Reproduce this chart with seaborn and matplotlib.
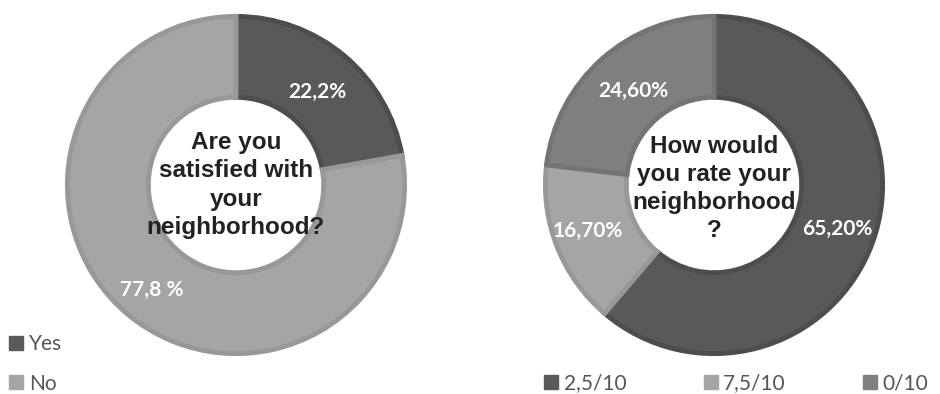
import matplotlib
matplotlib.use("Agg")
import matplotlib.pyplot as plt
from matplotlib.lines import Line2D
import seaborn as sns

# Survey results
q1_labels = ["Yes", "No"]
q1_values = [22.2, 77.8]
q1_texts = ["22,2%", "77,8 %"]
q1_title = "Are you\nsatisfied with\nyour\nneighborhood?"

q2_labels = ["2,5/10", "7,5/10", "0/10"]
q2_values = [65.2, 16.7, 24.6]
q2_texts = ["65,20%", "16,70%", "24,60%"]
q2_title = "How would\nyou rate your\nneighborhood\n?"

sns.set_theme(style="white")
plt.rcParams["font.family"] = ["Lato", "DejaVu Sans"]

DARK, LIGHT, MID = "#595959", "#a5a5a5", "#7f7f7f"
DARK_E, LIGHT_E, MID_E = "#4d4d4d", "#989898", "#747474"

fig = plt.figure(figsize=(9.4, 3.94), dpi=100)
W, H = 940, 394
R = 172


def donut_axes(cx, cy):
    return fig.add_axes([(cx - R) / W, (H - cy - R) / H, 2 * R / W, 2 * R / H])


def donut(ax, values, colors, edges, texts, text_pos, title, title_dy):
    wedges, _ = ax.pie(values, colors=colors, startangle=90, counterclock=False,
                       radius=1.0, wedgeprops=dict(width=0.48, linewidth=3.5))
    for w, e in zip(wedges, edges):
        w.set_edgecolor(e)
    for t, (x, y) in zip(texts, text_pos):
        ax.text(x, y, t, ha="center", va="center", color="white",
                fontsize=15, fontweight="bold")
    ax.text(0, title_dy, title, ha="center", va="center", color="#222222",
            fontsize=17.5, fontweight="bold", family="Liberation Sans",
            linespacing=1.28)
    ax.set_xlim(-1.02, 1.02)
    ax.set_ylim(-1.02, 1.02)
    ax.set_aspect("equal")
    ax.axis("off")
    return wedges


ax1 = donut_axes(236, 185)
donut(ax1, q1_values, [DARK, LIGHT], [DARK_E, LIGHT_E], q1_texts,
      [(0.48, 0.55), (-0.50, -0.62)], q1_title, 0.0)

ax2 = donut_axes(714, 185)
donut(ax2, q2_values, [DARK, LIGHT, MID], [DARK_E, LIGHT_E, MID_E], q2_texts,
      [(0.73, -0.26), (-0.75, -0.27), (-0.48, 0.56)], q2_title, -0.02)


def handles(colors, labels):
    return [Line2D([0], [0], marker="s", linestyle="none", markersize=9.5,
                   markerfacecolor=c, markeredgecolor=c, label=l)
            for c, l in zip(colors, labels)]


leg_kw = dict(frameon=False, fontsize=15, handlelength=0.6, handletextpad=0.3,
              labelcolor="#555555", borderaxespad=0, borderpad=0)
fig.legend(handles=handles([DARK, LIGHT], q1_labels), loc="upper left",
           bbox_to_anchor=(10 / W, 1 - 334 / H), labelspacing=0.95, **leg_kw)
fig.legend(handles=handles([DARK, LIGHT, MID], q2_labels), loc="upper left",
           bbox_to_anchor=(545 / W, 1 - 373 / H), ncol=3, columnspacing=3.75,
           **leg_kw)

fig.savefig("out.png", dpi=100)
